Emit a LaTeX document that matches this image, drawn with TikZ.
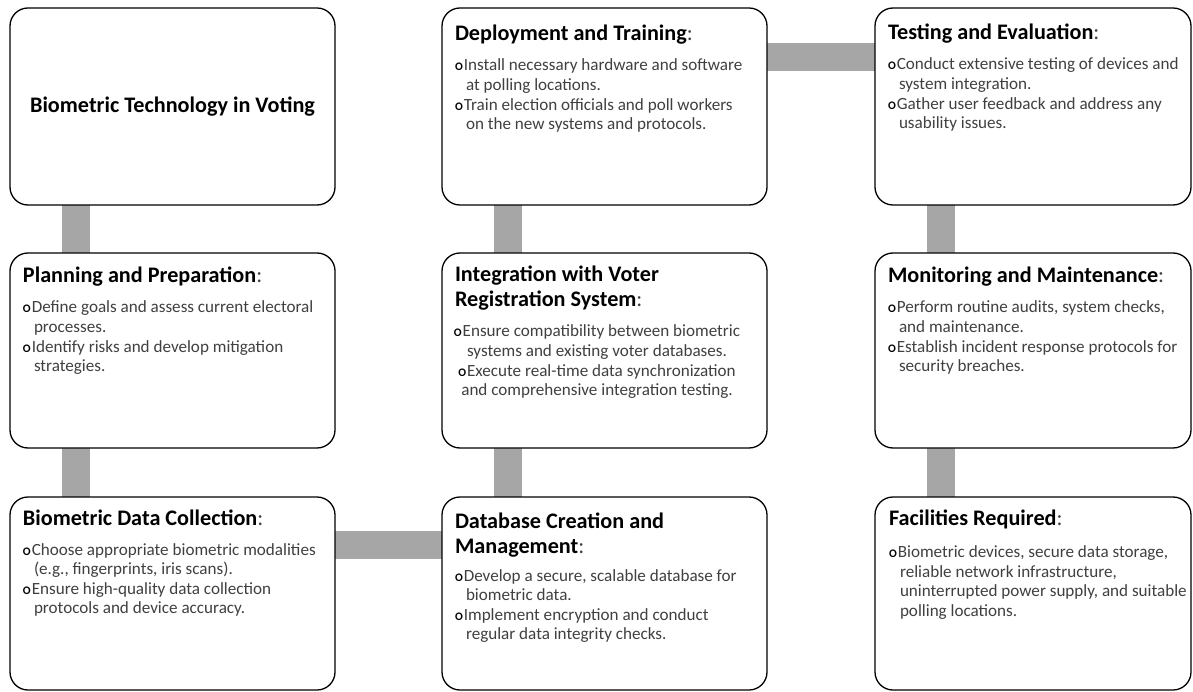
\documentclass[tikz,border=0pt]{standalone}
\usepackage{fontspec}
\setmainfont{Carlito}
\usetikzlibrary{backgrounds}

\definecolor{barc}{HTML}{A6A6A6}
\definecolor{bodyc}{HTML}{404040}
\setlength\parskip{0pt}

% heading, body and bullet fonts
\newcommand\hfont{\fontsize{22.2}{25}\selectfont\bfseries}
\newcommand\bfnt{\fontsize{17.1}{19.6}\selectfont\color{bodyc}}
\newcommand\bmark{{\fontsize{11.5}{10}\selectfont\bfseries\color{black}O}\hspace{1pt}}
\newcommand\cont{\hspace*{11pt}}
\newcommand\colonr{{\mdseries\color{bodyc}:}}
\newcommand\gapone{\vspace{10.4pt}}
% one centred line of body text
\newcommand\midline[1]{\makebox[284pt][c]{#1}\par}

\begin{document}
\begin{tikzpicture}[x=1pt,y=-1pt,
  box/.style={draw=black, line width=1.3pt, rounded corners=18pt, fill=white,
              anchor=north west, inner sep=0pt, outer sep=0pt},
  bar/.style={draw=barc, line width=28pt},
  txt/.style={anchor=base west, inner sep=0pt, outer sep=0pt}]
\useasboundingbox (0,0) rectangle (1193,692);

% boxes: column 1
\node[box, minimum width=325pt, minimum height=197pt] (tech) at (10,8)
  {\hfont Biometric Technology in Voting};
\node[box, minimum width=325pt, minimum height=195pt] (plan) at (10,253) {};
\node[box, minimum width=325pt, minimum height=193pt] (collect) at (10,497) {};
% column 2
\node[box, minimum width=325pt, minimum height=197pt] (deploy) at (442,8) {};
\node[box, minimum width=325pt, minimum height=195pt] (integ) at (442,253) {};
\node[box, minimum width=325pt, minimum height=193pt] (dbase) at (442,497) {};
% column 3
\node[box, minimum width=316pt, minimum height=197pt] (test) at (875,8) {};
\node[box, minimum width=316pt, minimum height=195pt] (monitor) at (875,253) {};
\node[box, minimum width=316pt, minimum height=193pt] (facil) at (875,497) {};

% grey connecting bars behind the boxes
\begin{scope}[on background layer]
  \draw[bar] ([shift={(65.5,0)}]tech.south west) -- ([shift={(65.5,0)}]plan.north west);
  \draw[bar] ([shift={(65.5,0)}]plan.south west) -- ([shift={(65.5,0)}]collect.north west);
  \draw[bar] ([shift={(0,48)}]collect.north east) -- ([shift={(0,48)}]dbase.north west);
  \draw[bar] ([shift={(65.5,0)}]dbase.north west) -- ([shift={(65.5,0)}]integ.south west);
  \draw[bar] ([shift={(65.5,0)}]integ.north west) -- ([shift={(65.5,0)}]deploy.south west);
  \draw[bar] ([shift={(0,49)}]deploy.north east) -- ([shift={(0,49)}]test.north west);
  \draw[bar] ([shift={(65.5,0)}]test.south west) -- ([shift={(65.5,0)}]monitor.north west);
  \draw[bar] ([shift={(65.5,0)}]monitor.south west) -- ([shift={(65.5,0)}]facil.north west);
\end{scope}

% box contents
\node[txt] (deploy-t) at ([shift={(13,33)}]deploy.north west) {\begin{minipage}[t]{320pt}\raggedright
  {\hfont Deployment and Training\colonr\par}\gapone
  \bfnt
  \bmark Install necessary hardware and software\par
  \cont at polling locations.\par
  \bmark Train election officials and poll workers\par
  \cont on the new systems and protocols.\par
\end{minipage}};

\node[txt] (test-t) at ([shift={(13,32)}]test.north west) {\begin{minipage}[t]{320pt}\raggedright
  {\hfont Testing and Evaluation\colonr\par}\gapone
  \bfnt
  \bmark Conduct extensive testing of devices and\par
  \cont system integration.\par
  \bmark Gather user feedback and address any\par
  \cont usability issues.\par
\end{minipage}};

\node[txt] (plan-t) at ([shift={(13,30)}]plan.north west) {\begin{minipage}[t]{320pt}\raggedright
  {\hfont Planning and Preparation\colonr\par}\gapone
  \bfnt
  \bmark Define goals and assess current electoral\par
  \cont processes.\par
  \bmark Identify risks and develop mitigation\par
  \cont strategies.\par
\end{minipage}};

\node[txt] (integ-t) at ([shift={(13,29)}]integ.north west) {\begin{minipage}[t]{284pt}
  {\raggedright\hfont Integration with Voter\par Registration System\colonr\par}\gapone
  {\bfnt
  \midline{\bmark Ensure compatibility between biometric}
  \midline{systems and existing voter databases.}
  \midline{\bmark Execute real-time data synchronization}
  \midline{and comprehensive integration testing.}}
\end{minipage}};

\node[txt] (monitor-t) at ([shift={(13,30)}]monitor.north west) {\begin{minipage}[t]{320pt}\raggedright
  {\hfont Monitoring and Maintenance\colonr\par}\gapone
  \bfnt
  \bmark Perform routine audits, system checks,\par
  \cont and maintenance.\par
  \bmark Establish incident response protocols for\par
  \cont security breaches.\par
\end{minipage}};

\node[txt] (collect-t) at ([shift={(13,28)}]collect.north west) {\begin{minipage}[t]{320pt}\raggedright
  {\hfont Biometric Data Collection\colonr\par}\gapone
  \bfnt
  \bmark Choose appropriate biometric modalities\par
  \cont (e.g., fingerprints, iris scans).\par
  \bmark Ensure high-quality data collection\par
  \cont protocols and device accuracy.\par
\end{minipage}};

\node[txt] (dbase-t) at ([shift={(13,31)}]dbase.north west) {\begin{minipage}[t]{320pt}\raggedright
  {\hfont Database Creation and\par Management\colonr\par}\vspace{8.5pt}
  \bfnt
  \bmark Develop a secure, scalable database for\par
  \cont biometric data.\par
  \bmark Implement encryption and conduct\par
  \cont regular data integrity checks.\par
\end{minipage}};

\node[txt] (facil-t) at ([shift={(14,28)}]facil.north west) {\begin{minipage}[t]{320pt}\raggedright
  {\hfont Facilities Required\colonr\par}\vspace{13pt}
  \bfnt
  \bmark Biometric devices, secure data storage,\par
  \cont reliable network infrastructure,\par
  \cont uninterrupted power supply, and suitable\par
  \cont polling locations.\par
\end{minipage}};
\end{tikzpicture}
\end{document}
